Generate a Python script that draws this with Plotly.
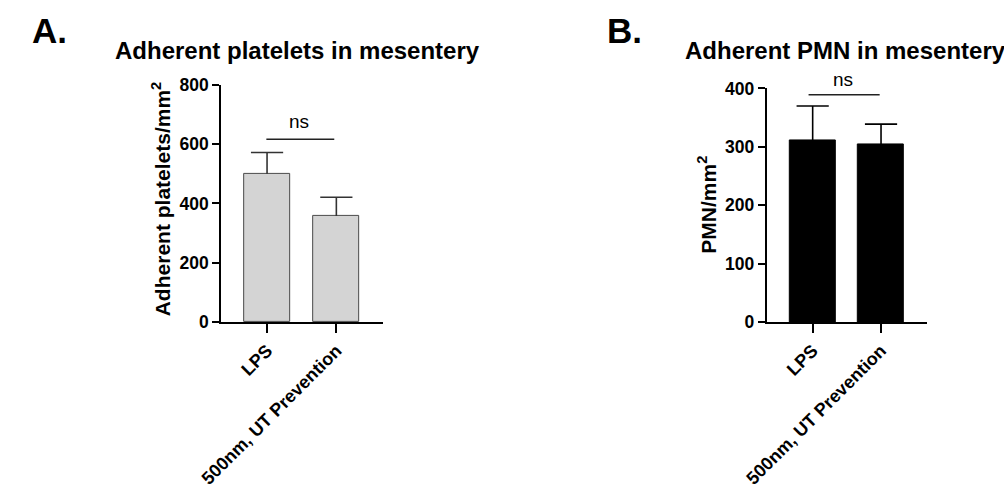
import plotly.graph_objects as go

categories = ["LPS", "500nm, UT Prevention"]
platelets_mean = [500, 358]
platelets_err = [72, 63]
pmn_mean = [311, 304]
pmn_err = [59, 35]

FONT = "Arial, Liberation Sans, sans-serif"
W, H = 1004, 502

def px(x):
    return x / W

def py(y):
    return 1 - y / H

fig = go.Figure()

def add_panel(means, errs, xa, ya, fill, edge, errcolor, width):
    fig.add_trace(go.Bar(
        x=categories, y=means, xaxis=xa, yaxis=ya, width=width,
        marker=dict(color=fill, line=dict(color=edge, width=1)),
        error_y=dict(type="data", array=errs, arrayminus=[0] * len(errs), symmetric=False,
                     width=0, thickness=1.6, color=errcolor),
        showlegend=False, hoverinfo="skip",
    ))
    # caps only at the top end of each error bar
    tops = [m + e for m, e in zip(means, errs)]
    fig.add_trace(go.Scatter(
        x=categories, y=tops, xaxis=xa, yaxis=ya, mode="markers",
        marker=dict(symbol="line-ew", size=23, line=dict(color=errcolor, width=1.6)),
        showlegend=False, hoverinfo="skip", cliponaxis=False,
    ))

add_panel(platelets_mean, platelets_err, "x", "y", "#d4d4d4", "#4a4a4a", "#333333", 0.656)
add_panel(pmn_mean, pmn_err, "x2", "y2", "#000000", "#000000", "#000000", 0.667)

axis_common = dict(
    showline=True, linecolor="black", linewidth=2,
    ticks="outside", tickwidth=2, tickcolor="black",
    showgrid=False, zeroline=False,
)
xtickfont = dict(family=FONT, size=18, color="black", weight="bold")
ytickfont = dict(family=FONT, size=17.5, color="black", weight="bold")

fig.update_layout(
    width=W, height=H,
    margin=dict(l=0, r=0, t=0, b=0),
    paper_bgcolor="white", plot_bgcolor="white",
    bargap=0,
    xaxis=dict(domain=[px(202), px(368)], range=[-0.662, 1.676], anchor="y",
               tickangle=-45, ticklen=9, tickfont=xtickfont, **axis_common),
    yaxis=dict(domain=[py(325), py(78)], range=[0, 800], anchor="x",
               tickvals=[0, 200, 400, 600, 800], ticklen=7, tickfont=ytickfont, **axis_common),
    xaxis2=dict(domain=[px(761), px(925)], range=[-0.671, 1.671], anchor="y2",
                tickangle=-45, ticklen=9, tickfont=xtickfont, **axis_common),
    yaxis2=dict(domain=[py(325), py(81.7)], range=[0, 400], anchor="x2",
                tickvals=[0, 100, 200, 300, 400], ticklen=7, tickfont=ytickfont, **axis_common),
)

# significance brackets
fig.add_shape(type="line", xref="x", yref="y", x0=-0.01, x1=0.97, y0=617, y1=617,
              line=dict(color="#222222", width=1.5))
fig.add_shape(type="line", xref="x2", yref="y2", x0=-0.06, x1=0.98, y0=389, y1=389,
              line=dict(color="#222222", width=1.5))

def ann(text, x, y, size, bold=True, angle=0, xanchor="center", yanchor="middle"):
    return dict(text=text, xref="paper", yref="paper", x=px(x), y=py(y),
                xanchor=xanchor, yanchor=yanchor, showarrow=False, textangle=angle,
                font=dict(family=FONT, size=size, color="black",
                          weight="bold" if bold else "normal"))

annotations = [
    ann("ns", 282, 116.5, 19, bold=False),
    ann("ns", 839, 72, 19, bold=False),
    ann("Adherent platelets in mesentery", 280.5, 42, 24),
    ann("Adherent PMN in mesentery", 842, 42, 24),
    ann("A.", 26.5, 21, 35),
    ann("B.", 615, 21, 35),
    ann("Adherent platelets/mm<sup>2</sup>", 140.5, 197, 21, angle=-90),
    ann("PMN/mm<sup>2</sup>", 700, 202.5, 21, angle=-90),
]
fig.update_layout(annotations=annotations)

fig.write_html("out.html",
               post_script="document.body.style.margin='0';document.body.style.overflow='hidden';")
